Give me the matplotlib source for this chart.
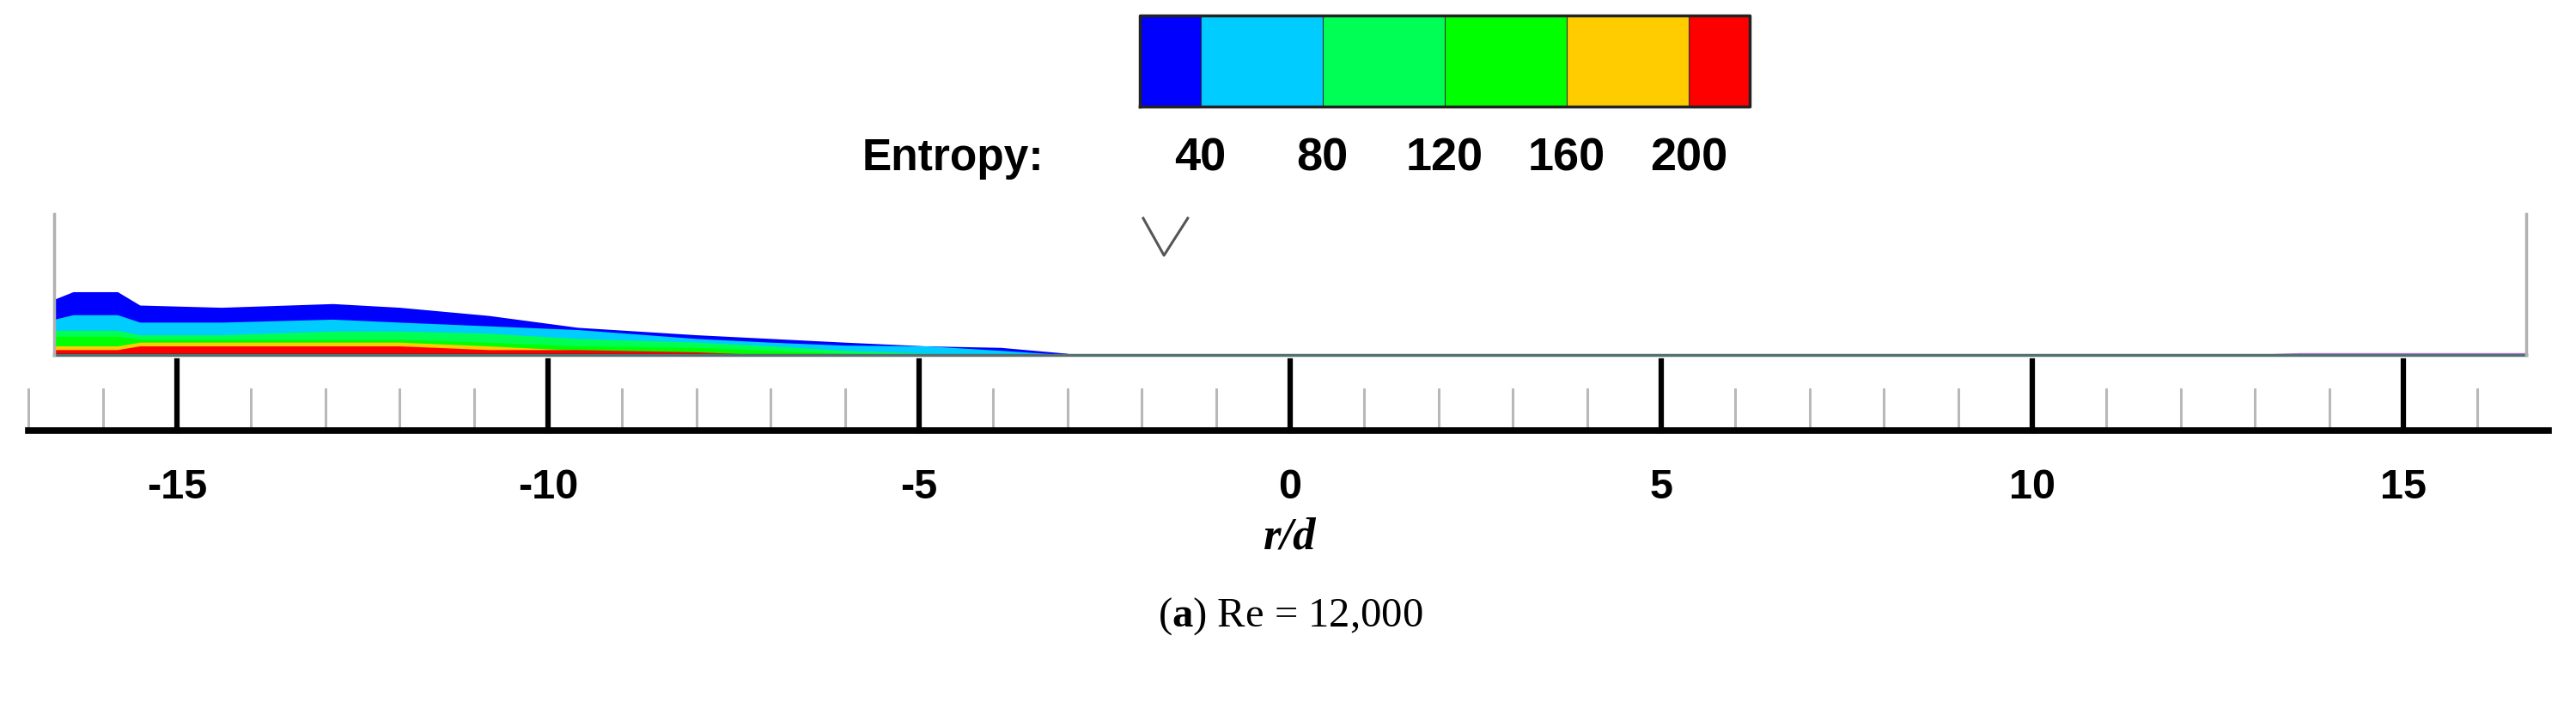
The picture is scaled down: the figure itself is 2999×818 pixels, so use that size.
"""Entropy band along the wall, Re = 12,000, with a Tecplot-style legend."""

import matplotlib.pyplot as plt
import numpy as np

plt.rcParams["mathtext.fontset"] = "custom"
plt.rcParams["mathtext.bf"] = "Liberation Serif:bold"
plt.rcParams["mathtext.rm"] = "Liberation Serif"

# ── data ─────────────────────────────────────────────────────────────────────
r_grid = [-16.65, -16.4, -15.8, -15.5, -14.4, -12.9, -12.0, -10.8,
          -9.6, -8.0, -7.0, -6.0, -4.9, -3.9, -3.0]
# top of each entropy band (in r/d units), outermost band first
h_blue   = [0.75, 0.85, 0.85, 0.67, 0.64, 0.69, 0.64, 0.53, 0.37, 0.27, 0.22, 0.17, 0.12, 0.10, 0.02]
h_cyan   = [0.48, 0.54, 0.54, 0.44, 0.44, 0.48, 0.44, 0.39, 0.34, 0.22, 0.17, 0.13, 0.12, 0.06, 0.0]
h_spring = [0.33, 0.33, 0.33, 0.27, 0.27, 0.32, 0.32, 0.29, 0.22, 0.17, 0.12, 0.06, 0.02, 0.0, 0.0]
h_green  = [0.25, 0.25, 0.25, 0.21, 0.21, 0.21, 0.21, 0.17, 0.12, 0.10, 0.06, 0.02, 0.0, 0.0, 0.0]
h_yellow = [0.12, 0.12, 0.12, 0.17, 0.17, 0.17, 0.17, 0.12, 0.06, 0.02, 0.0, 0.0, 0.0, 0.0, 0.0]
h_red    = [0.07, 0.07, 0.07, 0.12, 0.12, 0.12, 0.12, 0.07, 0.07, 0.04, 0.0, 0.0, 0.0, 0.0, 0.0]
h_dark   = [0.025, 0.025, 0.025, 0.025, 0.025, 0.025, 0.025, 0.025, 0.025, 0.02, 0.0, 0.0, 0.0, 0.0, 0.0]

# thin traces on the right wall
r_right = [12.8, 13.6, 14.2, 16.65]
h_right = [0.0, 0.03, 0.03, 0.03]

levels = [20, 40, 80, 120, 160, 200, 220]
level_labels = [40, 80, 120, 160, 200]
level_colors = ["#0000ff", "#00ccff", "#00ff55", "#00ff00", "#ffcc00", "#ff0000"]

major_ticks = [-15, -10, -5, 0, 5, 10, 15]
minor_ticks = [v for v in range(-17, 17) if v % 5 != 0]
marker_r = -1.7
caption = "Re = 12,000"

# ── figure: one axes covering the whole canvas, 1 r/d unit = 86.4 px ──────────
fig = plt.figure(figsize=(29.99, 8.18), dpi=100)
ax = fig.add_axes([0, 0, 1, 1])
ax.set_xlim(-17.384, 17.326)
ax.set_ylim(-4.69, 4.78)
ax.axis("off")

# ── entropy bands ─────────────────────────────────────────────────────────────
bands = [h_blue, h_cyan, h_spring, h_green, h_yellow, h_red]
for h, c in zip(bands, level_colors):
    ax.fill_between(r_grid, 0, h, color=c, lw=0, zorder=2)
ax.fill_between(r_grid, 0, h_dark, color="#990000", lw=0, zorder=2)
ax.fill_between(r_right, 0, h_right, color="#bb77ee", lw=0, zorder=2)

# wall and side boundaries
ax.plot([-16.65, 16.65], [0, 0], color="#557070", lw=2.5, zorder=3)
for xb in (-16.65, 16.65):
    ax.plot([xb, xb], [0, 1.9], color="#b0b0b0", lw=2.5, zorder=3)

# ── r/d axis ──────────────────────────────────────────────────────────────────
ax.plot([-17.0, 16.95], [-1.02, -1.02], color="black", lw=5.5, zorder=3)
for t in minor_ticks:
    ax.plot([t, t], [-1.02, -0.46], color="#b8b8b8", lw=2.2, zorder=2)
for t in major_ticks:
    ax.plot([t, t], [-1.02, -0.08], color="black", lw=4.5, zorder=3)
    ax.text(t, -1.79, str(t), ha="center", va="center", fontsize=35,
            fontweight="bold", family="Liberation Sans")
ax.text(0, -2.46, "r/d", ha="center", va="center", fontsize=38,
        family="Liberation Serif", style="italic", fontweight="bold")

# probe marker
ax.plot([marker_r - 0.28, marker_r, marker_r + 0.32], [1.84, 1.34, 1.84],
        color="#555555", lw=2.2)

# ── legend bar ────────────────────────────────────────────────────────────────
x0, x1 = -2.03, 6.19
y0, y1 = 3.34, 4.57
scale = (x1 - x0) / (levels[-1] - levels[0])
for lo, hi, c in zip(levels[:-1], levels[1:], level_colors):
    ax.fill_between([x0 + (lo - levels[0]) * scale, x0 + (hi - levels[0]) * scale],
                    y0, y1, color=c, lw=0, zorder=2)
    ax.plot([x0 + (lo - levels[0]) * scale] * 2, [y0, y1], color="#333333", lw=0.8)
ax.plot([x0, x1, x1, x0, x0], [y0, y0, y1, y1, y0], color="#222222", lw=2.5)
for v in level_labels:
    ax.text(x0 + (v - levels[0]) * scale, 2.64, str(v), ha="center", va="center",
            fontsize=39, fontweight="bold", family="Liberation Sans")
ax.text(-3.32, 2.64, "Entropy:", ha="right", va="center", fontsize=37,
        fontweight="bold", family="Liberation Sans")

# ── caption ───────────────────────────────────────────────────────────────────
ax.text(0, -3.52, r"($\mathbf{a}$) " + caption, ha="center", va="center",
        fontsize=35, family="Liberation Serif")

fig.savefig("out.png", dpi=100, facecolor="white")
